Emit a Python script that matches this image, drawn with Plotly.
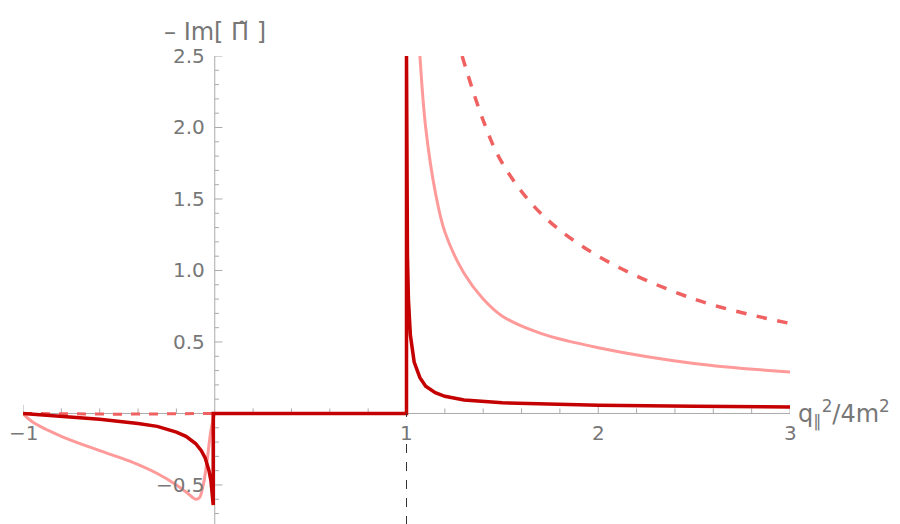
import plotly.graph_objects as go

# curve samples
dark_x = [-1, -0.8, -0.6, -0.4, -0.3, -0.2, -0.15, -0.1, -0.07, -0.05, -0.03, -0.02, -0.012, -0.008, -0.008,
          0, 0.5, 1.0, 1.0, 1.002, 1.005, 1.01, 1.02, 1.04, 1.07, 1.1, 1.15, 1.2, 1.3, 1.5, 1.75, 2, 2.5, 3]
dark_y = [0, -0.02, -0.04, -0.07, -0.09, -0.13, -0.16, -0.21, -0.26, -0.31, -0.4, -0.47, -0.58, -0.64, 0,
          0, 0, 0, 2.5, 1.6, 1.1, 0.8, 0.55, 0.36, 0.25, 0.19, 0.145, 0.12, 0.095, 0.075, 0.064, 0.058, 0.05, 0.045]

pink_neg_x = [-1, -0.95, -0.8, -0.6, -0.45, -0.3, -0.2, -0.14, -0.1, -0.08, -0.06, -0.04, -0.02, 0]
pink_neg_y = [0, -0.06, -0.16, -0.26, -0.33, -0.42, -0.5, -0.56, -0.6, -0.59, -0.5, -0.33, -0.12, 0]
pink_pos_x = [1.07, 1.1, 1.15, 1.2, 1.3, 1.4, 1.5, 1.7, 2, 2.5, 3]
pink_pos_y = [2.5, 2.0, 1.55, 1.27, 0.98, 0.8, 0.68, 0.56, 0.46, 0.35, 0.29]

dash_neg_x = [-1, -0.5, 0]
dash_neg_y = [0, -0.005, 0]
dash_pos_x = [1.29, 1.4, 1.5, 1.7, 2, 2.5, 3]
dash_pos_y = [2.5, 2.05, 1.75, 1.4, 1.1, 0.8, 0.63]

x_ticks = [-1, 1, 2, 3]
y_ticks = [-0.5, 0.5, 1.0, 1.5, 2.0, 2.5]

DARK = "#c40000"
PINK = "#ff9a9a"
DASH = "#f06262"
GRAY = "#777777"

fig = go.Figure()
fig.add_trace(go.Scatter(x=dash_neg_x, y=dash_neg_y, mode="lines",
                         line=dict(color=DASH, width=3, dash="dash")))
fig.add_trace(go.Scatter(x=dash_pos_x, y=dash_pos_y, mode="lines", line_shape="spline",
                         line=dict(color=DASH, width=3.5, dash="dash")))
fig.add_trace(go.Scatter(x=pink_neg_x, y=pink_neg_y, mode="lines", line_shape="spline",
                         line=dict(color=PINK, width=3)))
fig.add_trace(go.Scatter(x=pink_pos_x, y=pink_pos_y, mode="lines", line_shape="spline",
                         line=dict(color=PINK, width=3)))
fig.add_trace(go.Scatter(x=dark_x, y=dark_y, mode="lines",
                         line=dict(color=DARK, width=3.5)))

shapes = []
# axes through the origin
shapes.append(dict(type="line", x0=-1, x1=3, y0=0, y1=0, line=dict(color="#aaaaaa", width=1), layer="below"))
shapes.append(dict(type="line", x0=0, x1=0, y0=-0.78, y1=2.5, line=dict(color="#aaaaaa", width=1), layer="below"))
shapes.append(dict(type="line", x0=1, x1=1, y0=-0.78, y1=0, line=dict(color="#333333", width=1, dash="dash")))
# tick marks
for i in range(-5, 16):
    xv = i * 0.2
    if abs(xv) < 1e-9:
        continue
    major = abs(xv - round(xv)) < 1e-9
    shapes.append(dict(type="line", x0=xv, x1=xv, y0=0, y1=0.06 if major else 0.035,
                       line=dict(color="#aaaaaa", width=1), layer="below"))
for i in range(-7, 26):
    yv = i * 0.1
    if i == 0:
        continue
    major = i % 5 == 0
    shapes.append(dict(type="line", x0=0, x1=0.04 if major else 0.022, y0=yv, y1=yv,
                       line=dict(color="#aaaaaa", width=1), layer="below"))

annotations = []
for xv in x_ticks:
    annotations.append(dict(x=xv, y=0, text=str(xv).replace("-", "−"), showarrow=False,
                            yanchor="top", yshift=-6, font=dict(size=20, color=GRAY)))
for yv in y_ticks:
    annotations.append(dict(x=0, y=yv, text=f"{yv:.1f}".replace("-", "−"), showarrow=False,
                            xanchor="right", xshift=-8, font=dict(size=20, color=GRAY)))
annotations.append(dict(x=0, y=2.5, text="– Im[ Π̃ ]", showarrow=False, xanchor="center",
                        yanchor="bottom", yshift=8, font=dict(size=24, color=GRAY)))
annotations.append(dict(x=3, y=0, text="q<sub>∥</sub><sup>2</sup>/4m<sup>2</sup>", showarrow=False,
                        xanchor="left", xshift=6, yanchor="middle",
                        font=dict(size=24, color=GRAY, family="DejaVu Sans")))

fig.update_layout(
    width=900, height=524, showlegend=False,
    paper_bgcolor="white", plot_bgcolor="white",
    margin=dict(l=15, r=118, t=48, b=7, autoexpand=False),
    font=dict(family="DejaVu Sans"),
    xaxis=dict(range=[-1, 3], visible=False),
    yaxis=dict(range=[-0.78, 2.5], visible=False),
    shapes=shapes, annotations=annotations,
)
fig.write_html("out.html")
